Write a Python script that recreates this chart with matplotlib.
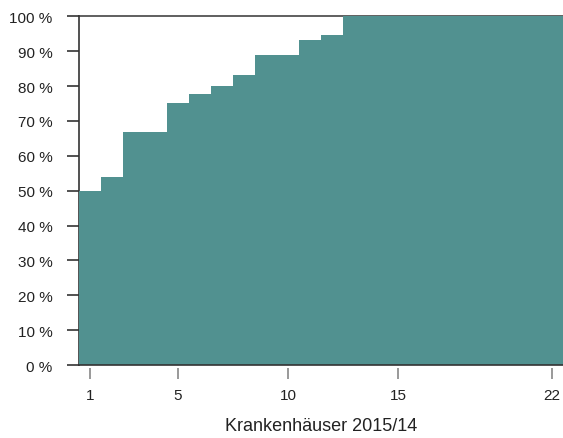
import matplotlib
matplotlib.use("Agg")
import matplotlib.pyplot as plt
import numpy as np

# Data: cumulative share per hospital (1..22)
hospitals = list(range(1, 23))
cum_share = [50.0, 53.9, 66.7, 66.7, 75.0, 77.8, 80.0, 83.3, 88.9, 88.9,
             93.3, 94.7, 100, 100, 100, 100, 100, 100, 100, 100, 100, 100]
x_ticks = [1, 5, 10, 15, 22]
y_ticks = list(range(0, 101, 10))
y_ticklabels = [f"{v} %" for v in y_ticks]
x_label = "Krankenhäuser 2015/14"

plt.rcParams['font.family'] = ['Liberation Sans', 'DejaVu Sans']

fig = plt.figure(figsize=(5.63, 4.39), dpi=100)
ax = fig.add_axes([79/563, 1-366/439, 1-79/563, (366-17.3)/439])

fill_color = '#519190'
xs = np.array(hospitals, dtype=float)
ys = np.array(cum_share)
edges = np.concatenate([xs - 0.5, [xs[-1] + 0.5]])
vals = np.concatenate([ys, [ys[-1]]])
ax.fill_between(edges, 0, vals, step='post', color=fill_color, linewidth=0, zorder=2)

ax.set_xlim(0.5, 22.5)
ax.set_ylim(0, 100)

for s in ['top', 'right', 'bottom']:
    ax.spines[s].set_visible(False)
ax.spines['left'].set_color('#333333')
ax.spines['left'].set_linewidth(1.2)
ax.spines['left'].set_zorder(1)
ax.spines['bottom'].set_position(('outward', 2))

ax.axhline(100, color='#444444', lw=1.2, zorder=1, clip_on=False)
ax.axhline(0, color='#333333', lw=1.2, zorder=3, clip_on=False)

ax.set_yticks(y_ticks)
ax.set_yticklabels(y_ticklabels)
ax.set_xticks(x_ticks)
ax.set_xticklabels([str(v) for v in x_ticks])

ax.tick_params(axis='y', length=9, width=1.2, color='#333333', pad=10,
               labelsize=11, labelcolor='#222222')
ax.tick_params(axis='x', length=8, width=1.2, color='#888888', pad=6.5,
               labelsize=11, labelcolor='#222222')

fig.text((79+563)/2/563, 1-427/439, x_label, ha='center', va='center',
         fontsize=13, color='#222222')

fig.savefig('out.png', dpi=100)
